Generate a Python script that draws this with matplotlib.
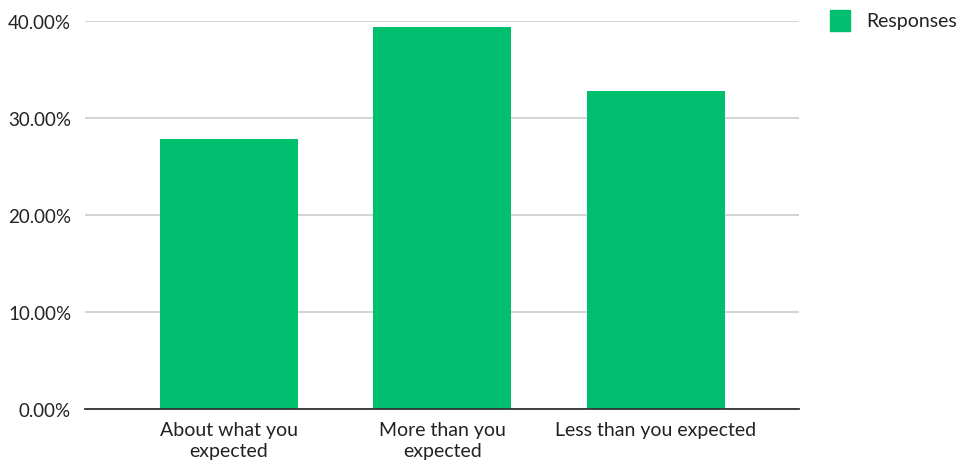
import matplotlib
matplotlib.use("Agg")
import matplotlib.pyplot as plt
from matplotlib.patches import Rectangle
from matplotlib.ticker import FuncFormatter

categories = ["About what you\nexpected", "More than you\nexpected", "Less than you expected"]
responses = [27.87, 39.34, 32.79]
yticks = [0, 10, 20, 30, 40]
series_name = "Responses"

green = "#00BF6F"
plt.rcParams["font.family"] = ["Lato", "DejaVu Sans"]

fig = plt.figure(figsize=(9.61, 4.64), dpi=100)
ax = fig.add_axes([85 / 961, 1 - 410 / 464, 714 / 961, 388 / 464])

x = list(range(len(categories)))
ax.bar(x, responses, width=0.646, color=green, zorder=3)
ax.set_xlim(-0.674, 2.67)
ax.set_ylim(0, 40)
ax.set_yticks(yticks)
ax.yaxis.set_major_formatter(FuncFormatter(lambda v, p: f"{v:.2f}%"))
ax.set_xticks(x)
ax.set_xticklabels(categories, fontsize=14, color="#222222", linespacing=1.25)
ax.tick_params(axis="y", labelsize=13.5, labelcolor="#222222", length=0, pad=10)
ax.tick_params(axis="x", length=0, pad=9)
ax.grid(axis="y", color="#cccccc", linewidth=1.2, zorder=0)
for s in ["top", "right", "left"]:
    ax.spines[s].set_visible(False)
ax.spines["bottom"].set_color("#333333")
ax.spines["bottom"].set_linewidth(1.3)
ax.spines["bottom"].set_zorder(4)

# legend
fig.patches.append(Rectangle((830 / 961, 1 - 32 / 464), 20 / 961, 21 / 464,
                             transform=fig.transFigure, color=green))
fig.text(866 / 961, 1 - 21.5 / 464, series_name, fontsize=14, color="#222222",
         va="center", ha="left")

fig.savefig("out.png", dpi=100, facecolor="white")
